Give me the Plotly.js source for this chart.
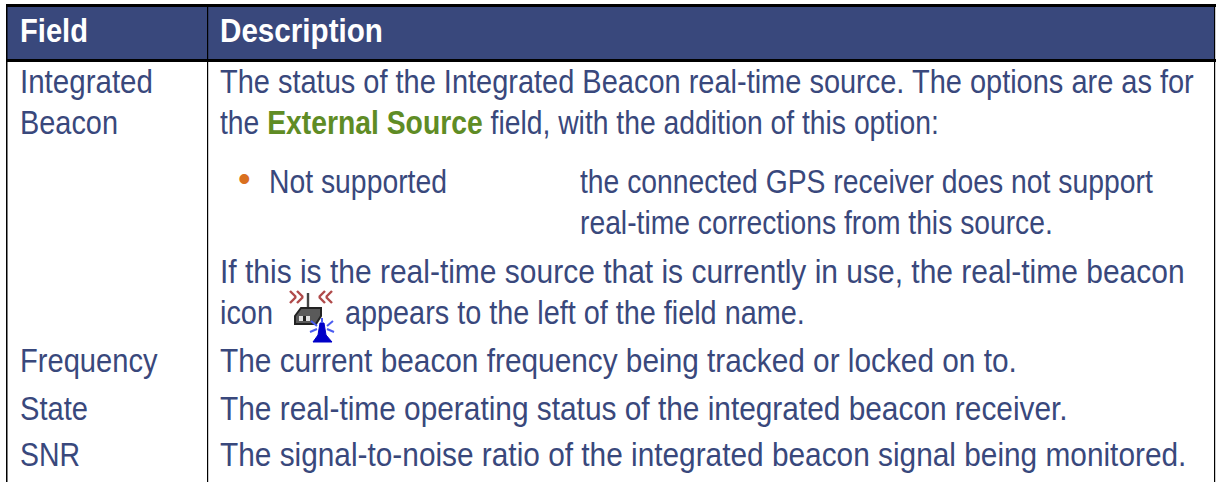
<!DOCTYPE html>
<html><head><meta charset="utf-8">
<script src="https://cdn.plot.ly/plotly-3.0.1.min.js"></script>
<style>html,body{margin:0;padding:0;background:#fff}#c{width:1217px;height:482px}</style></head>
<body><div id="c"></div>
<script>
const headers = ["Field", "Description"];
const fieldLines = ["Integrated", "Beacon", "Frequency", "State", "SNR"];
const descLines = [
 "The status of the Integrated Beacon real-time source. The options are as for",
 "the <b><span style=\"color:#5f8c25\">External Source</span></b> field, with the addition of this option:",
 "If this is the real-time source that is currently in use, the real-time beacon",
 "icon",
 "appears to the left of the field name.",
 "The current beacon frequency being tracked or locked on to.",
 "The real-time operating status of the integrated beacon receiver.",
 "The signal-to-noise ratio of the integrated beacon signal being monitored."
];
const optionName = "Not supported";
const optionLines = ["the connected GPS receiver does not support", "real-time corrections from this source."];
const bullet = "•";

const NAVY = "#39487c", FS = 33, FONT = "Liberation Sans, Arial, sans-serif";
const annotations = [], ends = [];
// x start, y centre, text, right edge of the line in the reference
function T(x, y, text, end, opt) {
  opt = opt || {};
  ends.push(end);
  annotations.push({x, y, text, xref:"x", yref:"y", showarrow:false, xanchor:"left", yanchor:"middle",
    font:{family:FONT, size:opt.size||FS, color:opt.color||NAVY}, align:"left", borderpad:0, borderwidth:0});
}
T(20,30,"<b>"+headers[0]+"</b>",88,{color:"#fff"});
T(220,30,"<b>"+headers[1]+"</b>",383,{color:"#fff"});
T(20,81,fieldLines[0],153); T(20,122,fieldLines[1],118); T(20,360,fieldLines[2],158); T(20,408,fieldLines[3],88); T(20,454,fieldLines[4],80);
T(220,81,descLines[0],1194); T(220,122,descLines[1],939);
T(238,178,bullet,null,{color:"#d9701f",size:36}); T(269,181,optionName,447);
T(580,181,optionLines[0],1153); T(580,222,optionLines[1],1053);
T(220,271,descLines[2],1185); T(220,312,descLines[3],273); T(345,312,descLines[4],805);
T(220,360,descLines[5],1017); T(220,408,descLines[6],1068); T(220,454,descLines[7],1187);

function R(x0,y0,x1,y1,c){return {type:"rect",xref:"x",yref:"y",x0,y0,x1,y1,fillcolor:c,line:{width:0}};}
function L(x0,y0,x1,y1,c,w){return {type:"line",xref:"x",yref:"y",x0,y0,x1,y1,line:{color:c,width:w||2.4}};}
function P(path,c,lc,w){return {type:"path",xref:"x",yref:"y",path,fillcolor:c,line:{color:lc||c,width:w||1}};}
const RED="#b04a4a", BL="#4a5cf0";
const shapes = [
  R(7,7,1214,59,NAVY),
  R(6,4,1216,7,"#000"), R(6,59,1216,62,"#000"),
  R(6,4,7.5,482,"#000"), R(207,4,208.2,482,"#000"), R(1214,4,1215.2,482,"#000"),
  // icon
  L(290,291,296,297,RED),L(296,297,290,303,RED),L(297,291,303,297,RED),L(303,297,297,303,RED),
  L(325,291,319,297,RED),L(319,297,325,303,RED),L(332,291,326,297,RED),L(326,297,332,303,RED),
  L(308,293,308,309,"#444",2.4),
  P("M295 316 L301 308 L321 308 L321 316 L316 324 L295 324 Z","#5a5a5a","#222",2),
  R(299,316,310,321,"#e0e0e0"), R(303,316,306,321,"#222"),
  P("M313 342 L318 335 L320 323 L324 323 L326 335 L332 342 Z","#0000c8"),
  L(311,321,317,326,BL,2),L(333,321,327,326,BL,2),L(310,332,317,329,BL,2),L(334,332,327,329,BL,2),L(322,318,322,323,BL,2)
];
Plotly.newPlot("c",[{x:[0],y:[0],mode:"markers",marker:{opacity:0},hoverinfo:"skip",showlegend:false}],{
  width:1217,height:482,margin:{l:0,r:0,t:0,b:0},paper_bgcolor:"#fff",plot_bgcolor:"#fff",showlegend:false,
  xaxis:{range:[0,1217],visible:false,fixedrange:true},yaxis:{range:[482,0],visible:false,fixedrange:true},
  shapes,annotations
},{staticPlot:true,displayModeBar:false}).then(()=>{
  // the reference type is narrower than Liberation Sans: condense each line to its measured width
  document.querySelectorAll("#c .annotation-text").forEach((t,i)=>{
    if(ends[i]==null) return;
    const b=t.getBBox(), sx=(ends[i]-annotations[i].x)/b.width;
    t.setAttribute("transform",`translate(${b.x} 0) scale(${sx} 1) translate(${-b.x} 0)`);
  });
});
</script></body></html>
